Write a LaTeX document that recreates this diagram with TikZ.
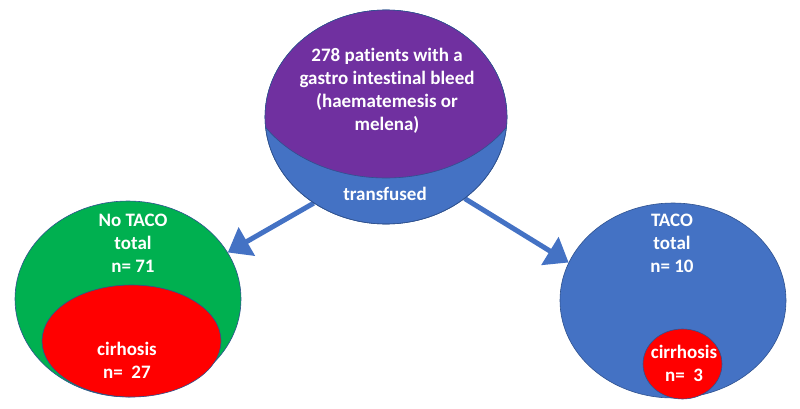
\documentclass[tikz,border=0pt]{standalone}
\usepackage{fontspec}
\setmainfont{Carlito}[Ligatures=CommonOff]
\usetikzlibrary{shapes,backgrounds,arrows.meta}

\definecolor{gibpurple}{HTML}{7030A0}
\definecolor{gibblue}{HTML}{4472C4}
\definecolor{gibgreen}{HTML}{00B050}
\definecolor{gibred}{HTML}{FF0000}
\definecolor{gibline}{HTML}{2F528F}

\begin{document}
\begin{tikzpicture}[x=1pt,y=-1pt,
                    blob/.style={ellipse,draw=gibline,line width=0.6pt,inner sep=0pt},
                    txt/.style={text=white,font=\bfseries\fontsize{19}{23}\selectfont,align=center},
                    flow/.style={-{Triangle[length=22pt,width=32pt]},line width=5pt,draw=gibblue}]

  \useasboundingbox (0,0) rectangle (800,409);

  % top: all patients
  \node[blob,fill=gibblue,minimum width=242pt,minimum height=214pt] (gib) at (386,117) {};
  \begin{scope}
    \clip (386,117) ellipse [x radius=121, y radius=107];
    \filldraw[fill=gibpurple,draw=gibline,line width=0.6pt] (386,68) ellipse [x radius=143, y radius=110];
  \end{scope}
  \draw[gibline,line width=0.6pt] (386,117) ellipse [x radius=121, y radius=107];
  \node[txt] (all)   at (387,91)  {278 patients with a\\gastro intestinal bleed\\(haematemesis or\\melena)};
  \node[txt] (trans) at (385,194) {transfused};

  % left: no TACO
  \node[blob,fill=gibgreen,minimum width=226pt,minimum height=196pt] (notaco) at (128,299) {};
  \node[blob,fill=gibred,minimum width=179pt,minimum height=112pt]  (cirL)   at (131.5,341) {};
  \node[txt] (notacotext) at (133,243) {No TACO\\total\\n= 71};
  \node[txt] (cirLtext)   at (127,360) {cirhosis\\n=\ \ 27};

  % right: TACO
  \node[blob,fill=gibblue,minimum width=226pt,minimum height=195pt] (taco) at (673,300.5) {};
  \node[blob,fill=gibred,minimum width=79pt,minimum height=70pt]    (cirR) at (682.5,364) {};
  \node[txt] (tacotext) at (672,243) {TACO\\total\\n= 10};
  \node[txt] (cirRtext) at (684,363) {cirrhosis\\n=\ \ 3};

  \begin{scope}[on background layer]
    \path (gib.230) edge[flow] (notaco.25)
          (gib.-46) edge[flow] (taco.160);
  \end{scope}
\end{tikzpicture}
\end{document}
